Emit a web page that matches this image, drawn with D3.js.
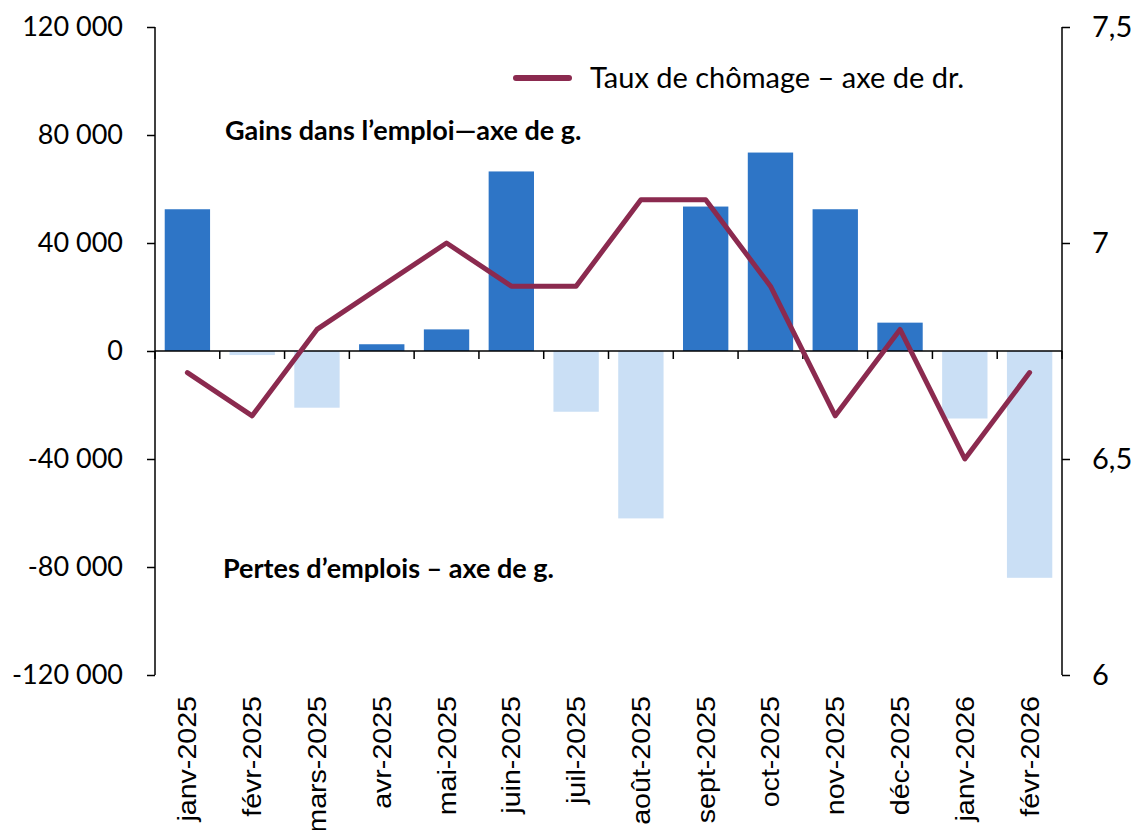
<!DOCTYPE html>
<html>
<head>
<meta charset="utf-8">
<script src="https://cdn.jsdelivr.net/npm/d3@7"></script>
<style>
  body { margin: 0; background: #fff; }
  svg text { font-family: Lato, "Noto Sans", sans-serif; fill: #000; }
</style>
</head>
<body>
<div id="chart"></div>
<script>
// Données
const mois = ["janv-2025", "févr-2025", "mars-2025", "avr-2025", "mai-2025", "juin-2025", "juil-2025",
              "août-2025", "sept-2025", "oct-2025", "nov-2025", "déc-2025", "janv-2026", "févr-2026"];
const variationEmploi = [52500, -1500, -21000, 2500, 8000, 66500, -22500, -62000, 53500, 73500, 52500, 10500, -25000, -84000];
const tauxChomage = [6.7, 6.6, 6.8, 6.9, 7.0, 6.9, 6.9, 7.1, 7.1, 6.9, 6.6, 6.8, 6.5, 6.7];
const ticksGauche = [120000, 80000, 40000, 0, -40000, -80000, -120000];
const ticksDroite = [7.5, 7, 6.5, 6];

const width = 1139, height = 830;
const margin = {top: 27, right: 77, bottom: 155, left: 155};
const innerW = width - margin.left - margin.right;
const innerH = height - margin.top - margin.bottom;

const colGain = "#2E75C6", colPerte = "#CADFF5", colLigne = "#8B2A4F";

const svg = d3.select("#chart")
    .append("svg")
    .attr("width", width)
    .attr("height", height)
    .append("g")
    .attr("transform", "translate(" + margin.left + "," + margin.top + ")");

// Échelles
const xBand = d3.scaleBand().domain(mois).range([0, innerW]);
const yL = d3.scaleLinear().domain([-120000, 120000]).range([innerH, 0]);
const yR = d3.scaleLinear().domain([6, 7.5]).range([innerH, 0]);

const fmt = d => d3.format(",")(d).replace(/,/g, " ").replace("−", "-");

// Barres
svg.selectAll("rect.bar")
    .data(variationEmploi)
    .enter()
    .append("rect")
    .attr("class", "bar")
    .attr("x", (d, i) => xBand(mois[i]) + xBand.bandwidth() * 0.15)
    .attr("width", xBand.bandwidth() * 0.7)
    .attr("y", d => yL(Math.max(0, d)))
    .attr("height", d => Math.abs(yL(d) - yL(0)))
    .style("fill", d => d >= 0 ? colGain : colPerte);

// Axe de gauche
const axeG = svg.append("g")
    .call(d3.axisLeft(yL).tickValues(ticksGauche).tickSize(8).tickPadding(24).tickFormat(fmt));
axeG.select(".domain").attr("d", "M0," + yL(120000) + "V" + yL(-120000)).attr("stroke-width", 1.5);
axeG.selectAll(".tick line").attr("stroke-width", 1.5);
axeG.selectAll("text").attr("font-size", "27px");

// Axe de droite
const axeD = svg.append("g")
    .attr("transform", "translate(" + innerW + ",0)")
    .call(d3.axisRight(yR).tickValues(ticksDroite).tickSize(8).tickPadding(22)
        .tickFormat(d => String(d).replace(".", ",")));
axeD.select(".domain").attr("d", "M0," + yR(7.5) + "V" + yR(6)).attr("stroke-width", 1.5);
axeD.selectAll(".tick line").attr("stroke-width", 1.5);
axeD.selectAll("text").attr("font-size", "29px");

// Axe des x (ligne zéro)
const bornes = mois.map(m => xBand(m)).concat([innerW]);
svg.append("line")
    .attr("x1", 0).attr("x2", innerW)
    .attr("y1", yL(0)).attr("y2", yL(0))
    .attr("stroke", "#000").attr("stroke-width", 1.5);
svg.selectAll("line.xtick")
    .data(bornes)
    .enter()
    .append("line")
    .attr("class", "xtick")
    .attr("x1", d => d).attr("x2", d => d)
    .attr("y1", yL(0)).attr("y2", yL(0) + 8)
    .attr("stroke", "#000").attr("stroke-width", 1.5);

// Étiquettes des mois
svg.selectAll("text.mois")
    .data(mois)
    .enter()
    .append("text")
    .attr("class", "mois")
    .attr("transform", d => "translate(" + (xBand(d) + xBand.bandwidth() / 2 + 9) + "," + (innerH + 21) + ") rotate(-90) scale(1.1,1)")
    .attr("text-anchor", "end")
    .style("font-family", "'Liberation Sans', Arial, sans-serif")
    .attr("font-size", "26px")
    .text(d => d);

// Ligne du taux de chômage
const ligne = d3.line()
    .x((d, i) => xBand(mois[i]) + xBand.bandwidth() / 2)
    .y(d => yR(d));
svg.append("path")
    .datum(tauxChomage)
    .attr("d", ligne)
    .attr("fill", "none")
    .attr("stroke", colLigne)
    .attr("stroke-width", 5)
    .attr("stroke-linejoin", "round")
    .attr("stroke-linecap", "round");

// Légende
svg.append("line")
    .attr("x1", 516 - margin.left).attr("x2", 569 - margin.left)
    .attr("y1", 78 - margin.top).attr("y2", 78 - margin.top)
    .attr("stroke", colLigne).attr("stroke-width", 6).attr("stroke-linecap", "round");
svg.append("text")
    .attr("x", 590 - margin.left).attr("y", 88 - margin.top)
    .attr("font-size", "29px")
    .text("Taux de chômage – axe de dr.");

// Annotations
svg.append("text")
    .attr("x", 225 - margin.left).attr("y", 140 - margin.top)
    .attr("font-size", "27px").attr("font-weight", "bold")
    .text("Gains dans l’emploi—axe de g.");
svg.append("text")
    .attr("x", 223 - margin.left).attr("y", 578 - margin.top)
    .attr("font-size", "27px").attr("font-weight", "bold")
    .text("Pertes d’emplois – axe de g.");
</script>
</body>
</html>
